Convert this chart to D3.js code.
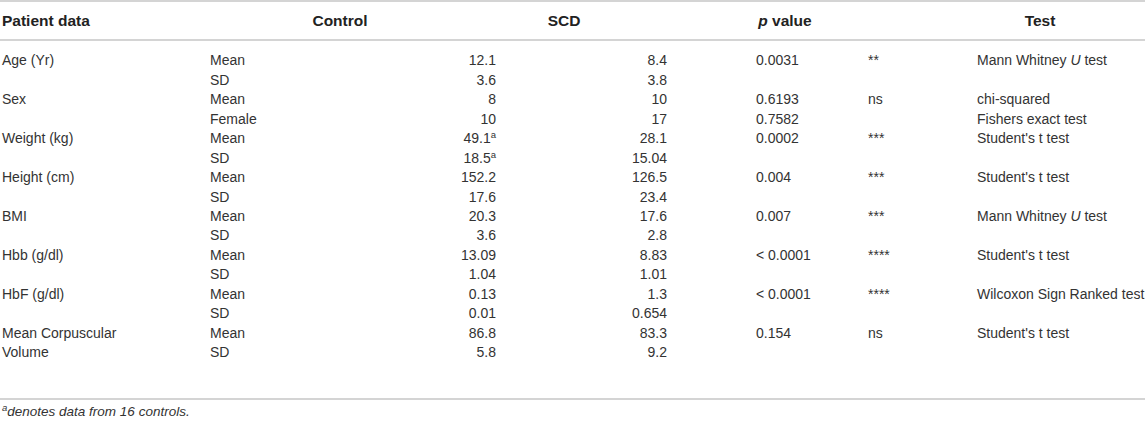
<!DOCTYPE html>
<html>
<head>
<meta charset="utf-8">
<script src="https://d3js.org/d3.v7.min.js"></script>
<style>
  body { margin: 0; background: #fff; }
  svg { display: block; font-family: "Liberation Sans", Arial, Helvetica, sans-serif; }
  .cell { font-size: 14px; fill: #333; }
  .head { font-size: 15.5px; font-weight: bold; fill: #222; }
  .rule { stroke: #d4d4d4; stroke-width: 2; }
  .note { font-size: 13.5px; font-style: italic; fill: #333; }
</style>
</head>
<body>
<svg width="1145" height="423"></svg>
<script>
// column headers
var headers = ["Patient data", "Control", "SCD", "p value", "Test"];

// one entry per table row
var groups   = ["Age (Yr)", "", "Sex", "", "Weight (kg)", "", "Height (cm)", "", "BMI", "",
                "Hbb (g/dl)", "", "HbF (g/dl)", "", "Mean Corpuscular", "Volume"];
var stats    = ["Mean", "SD", "Mean", "Female", "Mean", "SD", "Mean", "SD", "Mean", "SD",
                "Mean", "SD", "Mean", "SD", "Mean", "SD"];
var control  = ["12.1", "3.6", "8", "10", "49.1", "18.5", "152.2", "17.6", "20.3", "3.6",
                "13.09", "1.04", "0.13", "0.01", "86.8", "5.8"];
var controlSup = ["", "", "", "", "a", "a", "", "", "", "", "", "", "", "", "", ""];
var scd      = ["8.4", "3.8", "10", "17", "28.1", "15.04", "126.5", "23.4", "17.6", "2.8",
                "8.83", "1.01", "1.3", "0.654", "83.3", "9.2"];
var pValues  = ["0.0031", "", "0.6193", "0.7582", "0.0002", "", "0.004", "", "0.007", "",
                "< 0.0001", "", "< 0.0001", "", "0.154", ""];
var signif   = ["**", "", "ns", "", "***", "", "***", "", "***", "", "****", "", "****", "", "ns", ""];
var tests    = ["Mann Whitney U test", "", "chi-squared", "Fishers exact test", "Student's t test", "",
                "Student's t test", "", "Mann Whitney U test", "", "Student's t test", "",
                "Wilcoxon Sign Ranked test", "", "Student's t test", ""];
var footnote = "denotes data from 16 controls.";

var svg = d3.select("svg");
var width = 1145;

// vertical layout: row bands
var y = d3.scaleBand()
  .domain(d3.range(groups.length))
  .range([50.5, 362])
  .paddingInner(0);

// column x positions (anchor points)
var x = d3.scaleOrdinal()
  .domain(["group", "stat", "control", "scd", "p", "sig", "test"])
  .range([2, 210, 496, 667, 756, 868, 977]);

// rules
svg.append("line").attr("class", "rule").attr("x1", 0).attr("x2", width).attr("y1", 1).attr("y2", 1);
svg.append("line").attr("class", "rule").attr("x1", 0).attr("x2", width).attr("y1", 40).attr("y2", 40);
svg.append("line").attr("class", "rule").attr("x1", 0).attr("x2", width).attr("y1", 399).attr("y2", 399);

// header row
var headY = 25.5;
svg.append("text").attr("class", "head").attr("x", x("group")).attr("y", headY).text(headers[0]);
svg.append("text").attr("class", "head").attr("x", 340).attr("y", headY).attr("text-anchor", "middle").text(headers[1]);
svg.append("text").attr("class", "head").attr("x", 564).attr("y", headY).attr("text-anchor", "middle").text(headers[2]);
var ph = svg.append("text").attr("class", "head").attr("x", 785).attr("y", headY).attr("text-anchor", "middle");
ph.append("tspan").attr("font-style", "italic").text("p");
ph.append("tspan").text(" value");
svg.append("text").attr("class", "head").attr("x", 1040).attr("y", headY).attr("text-anchor", "middle").text(headers[4]);

var rows = svg.selectAll("g.row")
  .data(d3.range(groups.length))
  .enter().append("g")
  .attr("class", "row")
  .attr("transform", function(i) { return "translate(0," + (y(i) + y.bandwidth() / 2 + 5) + ")"; });

rows.append("text").attr("class", "cell").attr("x", x("group")).text(function(i) { return groups[i]; });
rows.append("text").attr("class", "cell").attr("x", x("stat")).text(function(i) { return stats[i]; });

var ctl = rows.append("text").attr("class", "cell").attr("x", x("control")).attr("text-anchor", "end");
ctl.append("tspan").text(function(i) { return control[i]; });
ctl.append("tspan").attr("font-size", "9.5px").attr("dy", -5).text(function(i) { return controlSup[i]; });

rows.append("text").attr("class", "cell").attr("x", x("scd")).attr("text-anchor", "end").text(function(i) { return scd[i]; });
rows.append("text").attr("class", "cell").attr("x", x("p")).text(function(i) { return pValues[i]; });
rows.append("text").attr("class", "cell").attr("x", x("sig")).attr("font-size", function(i) { return signif[i] === "ns" ? "14px" : "10.5px"; })
  .attr("fill", function(i) { return signif[i] === "ns" ? "#333" : "#777"; }).text(function(i) { return signif[i]; });

// test names, with italic U where present
rows.append("text").attr("class", "cell").attr("x", x("test"))
  .each(function(i) {
    var t = d3.select(this);
    var parts = tests[i].split(" U ");
    if (parts.length === 2) {
      t.append("tspan").text(parts[0] + " ");
      t.append("tspan").attr("font-style", "italic").text("U");
      t.append("tspan").text(" " + parts[1]);
    } else {
      t.text(tests[i]);
    }
  });

// footnote
var fn = svg.append("text").attr("class", "note").attr("x", 2).attr("y", 416);
fn.append("tspan").attr("font-size", "9.5px").attr("dy", -5).text("a");
fn.append("tspan").attr("dy", 5).text(footnote);
</script>
</body>
</html>
